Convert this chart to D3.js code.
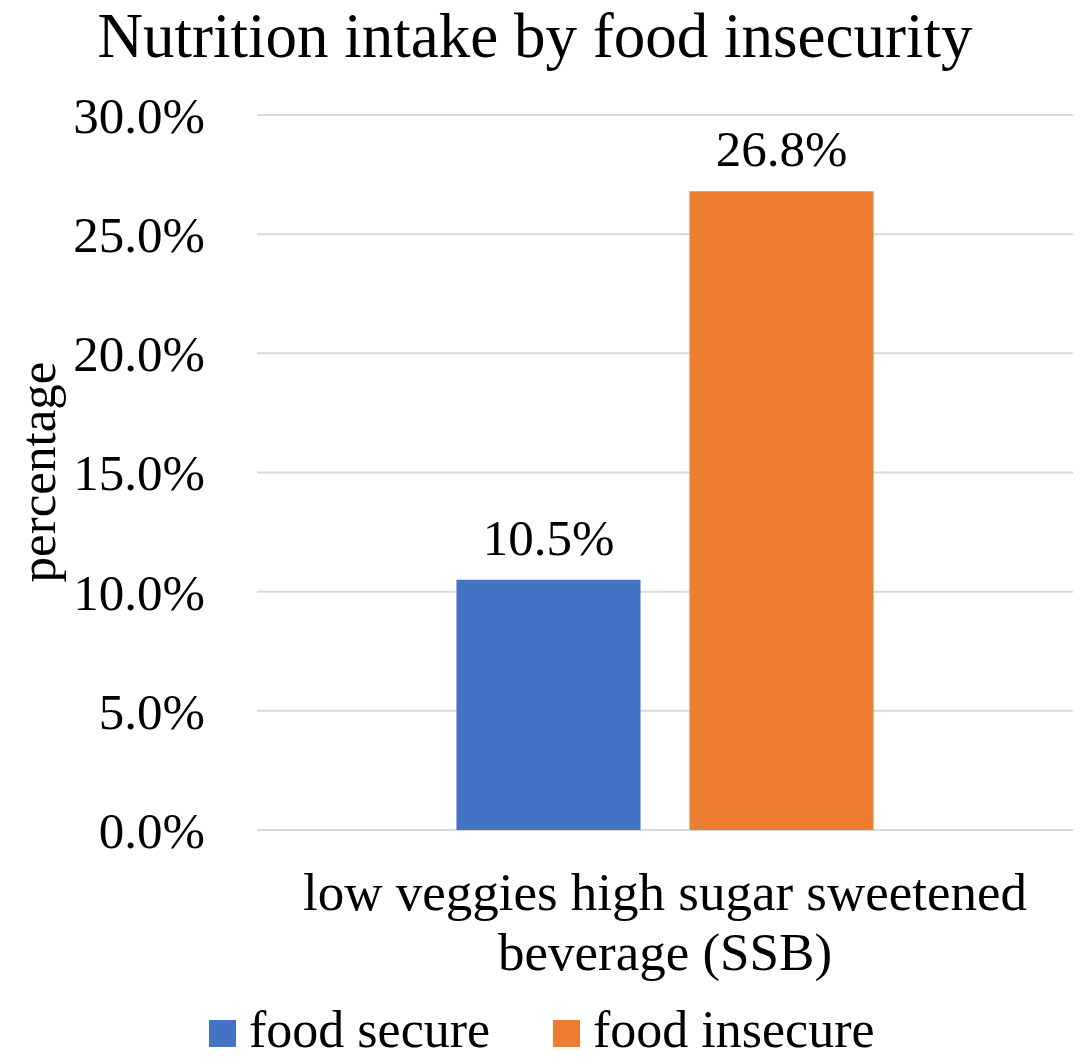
<!DOCTYPE html>
<html>
<head>
<meta charset="utf-8">
<script src="https://cdn.jsdelivr.net/npm/d3@7"></script>
<style>
  body { margin: 0; background: #fff; }
  svg text { font-family: "Liberation Serif", "Times New Roman", serif; fill: #000; }
</style>
</head>
<body>
<svg id="chart" width="1084" height="1059"></svg>
<script>
// chart data
var categories = ["low veggies high sugar sweetened beverage (SSB)"];
var seriesNames = ["food secure", "food insecure"];
var seriesValues = [10.5, 26.8];
var seriesColors = ["#4472c4", "#ed7d31"];
var yTicks = [0, 5, 10, 15, 20, 25, 30];

var svg = d3.select("#chart");

var margin = { left: 257, right: 11, top: 115, bottom: 229 };
var width = 1084, height = 1059;

var y = d3.scaleLinear()
  .domain([0, 30])
  .range([height - margin.bottom, margin.top]);

var x0 = d3.scaleBand()
  .domain(categories)
  .range([margin.left, width - margin.right]);

var x1 = d3.scaleBand()
  .domain(seriesNames)
  .range([0, x0.bandwidth()])
  .paddingInner(0.21)
  .paddingOuter(0.856);

// title
svg.append("text")
  .attr("x", 535)
  .attr("y", 57)
  .attr("text-anchor", "middle")
  .style("font-size", "63px")
  .text("Nutrition intake by food insecurity");

// gridlines
svg.append("g")
  .selectAll("line")
  .data(yTicks)
  .enter().append("line")
  .attr("x1", margin.left)
  .attr("x2", width - margin.right)
  .attr("y1", function(d) { return y(d); })
  .attr("y2", function(d) { return y(d); })
  .attr("stroke", "#d9d9d9")
  .attr("stroke-width", 2);

// y axis labels
var yAxis = d3.axisLeft(y)
  .tickValues(yTicks)
  .tickSize(0)
  .tickPadding(0)
  .tickFormat(function(d) { return d.toFixed(1) + "%"; });

var yg = svg.append("g")
  .attr("transform", "translate(205,0)")
  .call(yAxis);
yg.select(".domain").remove();
yg.selectAll("text")
  .style("font-size", "51px")
  .style("font-family", "'Liberation Serif', serif")
  .attr("dy", "0.34em");

// y axis title
svg.append("text")
  .attr("transform", "translate(55,472) rotate(-90)")
  .attr("text-anchor", "middle")
  .style("font-size", "51px")
  .text("percentage");

// bars
svg.append("g")
  .selectAll("rect")
  .data(seriesValues)
  .enter().append("rect")
  .attr("x", function(d, i) { return x0(categories[0]) + x1(seriesNames[i]); })
  .attr("width", x1.bandwidth())
  .attr("y", function(d) { return y(d); })
  .attr("height", function(d) { return y(0) - y(d); })
  .attr("fill", function(d, i) { return seriesColors[i]; });

// data labels
svg.append("g")
  .selectAll("text")
  .data(seriesValues)
  .enter().append("text")
  .attr("x", function(d, i) { return x0(categories[0]) + x1(seriesNames[i]) + x1.bandwidth() / 2; })
  .attr("y", function(d) { return y(d) - 25; })
  .attr("text-anchor", "middle")
  .style("font-size", "51px")
  .text(function(d) { return d.toFixed(1) + "%"; });

// category label, wrapped on two lines
var catLines = ["low veggies high sugar sweetened", "beverage (SSB)"];
svg.append("text")
  .attr("x", x0(categories[0]) + x0.bandwidth() / 2)
  .attr("y", 910)
  .attr("text-anchor", "middle")
  .style("font-size", "53px")
  .selectAll("tspan")
  .data(catLines)
  .enter().append("tspan")
  .attr("x", x0(categories[0]) + x0.bandwidth() / 2)
  .attr("dy", function(d, i) { return i === 0 ? 0 : 60; })
  .text(function(d) { return d; });

// legend
var legendX = [209, 553];
var legend = svg.append("g")
  .selectAll("g")
  .data(seriesNames)
  .enter().append("g")
  .attr("transform", function(d, i) { return "translate(" + legendX[i] + ",1020)"; });

legend.append("rect")
  .attr("width", 27)
  .attr("height", 27)
  .attr("fill", function(d, i) { return seriesColors[i]; });

legend.append("text")
  .attr("x", 40)
  .attr("y", 27)
  .style("font-size", "52px")
  .text(function(d) { return d; });
</script>
</body>
</html>
